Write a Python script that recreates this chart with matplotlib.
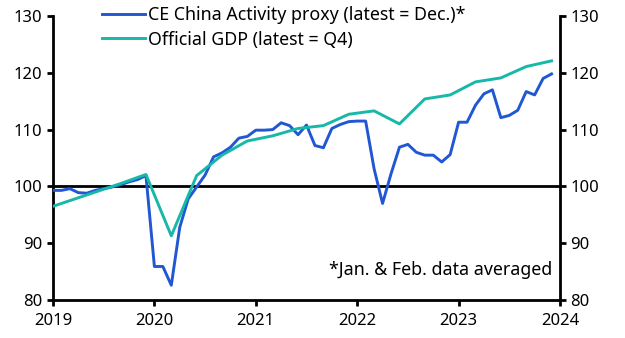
import matplotlib
matplotlib.use("Agg")
import matplotlib.pyplot as plt
import numpy as np

# monthly activity proxy, Jan 2019 - Dec 2023 (Jan & Feb averaged)
proxy = [99.3, 99.3, 99.6, 98.9, 98.8, 99.3, 99.6, 99.9, 100.3, 100.8, 101.2, 101.9,
         85.9, 85.9, 82.6, 92.8, 97.8, 99.9, 102.0, 105.2, 105.9, 106.9, 108.5, 108.8,
         109.9, 109.9, 110.0, 111.2, 110.7, 109.1, 110.8, 107.2, 106.8, 110.2, 110.9, 111.4,
         111.5, 111.5, 103.1, 97.0, 102.2, 106.9, 107.4, 106.0, 105.5, 105.5, 104.3, 105.6,
         111.3, 111.3, 114.3, 116.3, 117.0, 112.1, 112.5, 113.4, 116.7, 116.1, 119.0, 119.8]

# quarterly official GDP, Q4 2018 - Q4 2023 (plotted at quarter-end month)
gdp = [96.0,
       97.5, 99.0, 100.5, 102.1,
       91.3, 101.9, 105.5, 108.0,
       108.9, 110.2, 110.7, 112.7,
       113.3, 111.0, 115.4, 116.1,
       118.4, 119.1, 121.1, 122.1]

years = [2019, 2020, 2021, 2022, 2023, 2024]
yticks = [80, 90, 100, 110, 120, 130]

proxy_x = 2019 + np.arange(len(proxy)) / 12
gdp_x = 2018 + 11 / 12 + np.arange(len(gdp)) * 0.25

plt.rcParams['font.family'] = ['Noto Sans', 'DejaVu Sans']
plt.rcParams['font.size'] = 12

fig = plt.figure(figsize=(6.25, 3.38), dpi=100)
ax = fig.add_axes([53 / 625, 38 / 338, 507 / 625, 284 / 338])

blue = '#2157d3'
teal = '#16b8a7'

ax.plot(proxy_x, proxy, color=blue, lw=2.1, label='CE China Activity proxy (latest = Dec.)*', zorder=3)
ax.plot(gdp_x, gdp, color=teal, lw=2.1, label='Official GDP (latest = Q4)', zorder=3)
ax.axhline(100, color='black', lw=2.0, zorder=2)

ax.set_xlim(2019, 2024)
ax.set_ylim(80, 130)
ax.set_xticks(years)
ax.set_yticks(yticks)

for side in ['left', 'right', 'bottom']:
    ax.spines[side].set_linewidth(2.0)
ax.spines['top'].set_visible(False)
ax.tick_params(axis='both', width=2.0, length=4.5, direction='out', pad=3)
ax.tick_params(axis='y', right=True, labelright=True)
ax.tick_params(axis='x', pad=5)

ax.legend(loc='upper left', bbox_to_anchor=(0.08, 1.065), frameon=False, fontsize=12.8,
          handlelength=2.4, handletextpad=0.15, labelspacing=0.35, borderpad=0)

ax.text(0.985, 0.105, '*Jan. & Feb. data averaged', transform=ax.transAxes,
        ha='right', va='center', fontsize=12.8)

fig.savefig('out.png', dpi=100)
